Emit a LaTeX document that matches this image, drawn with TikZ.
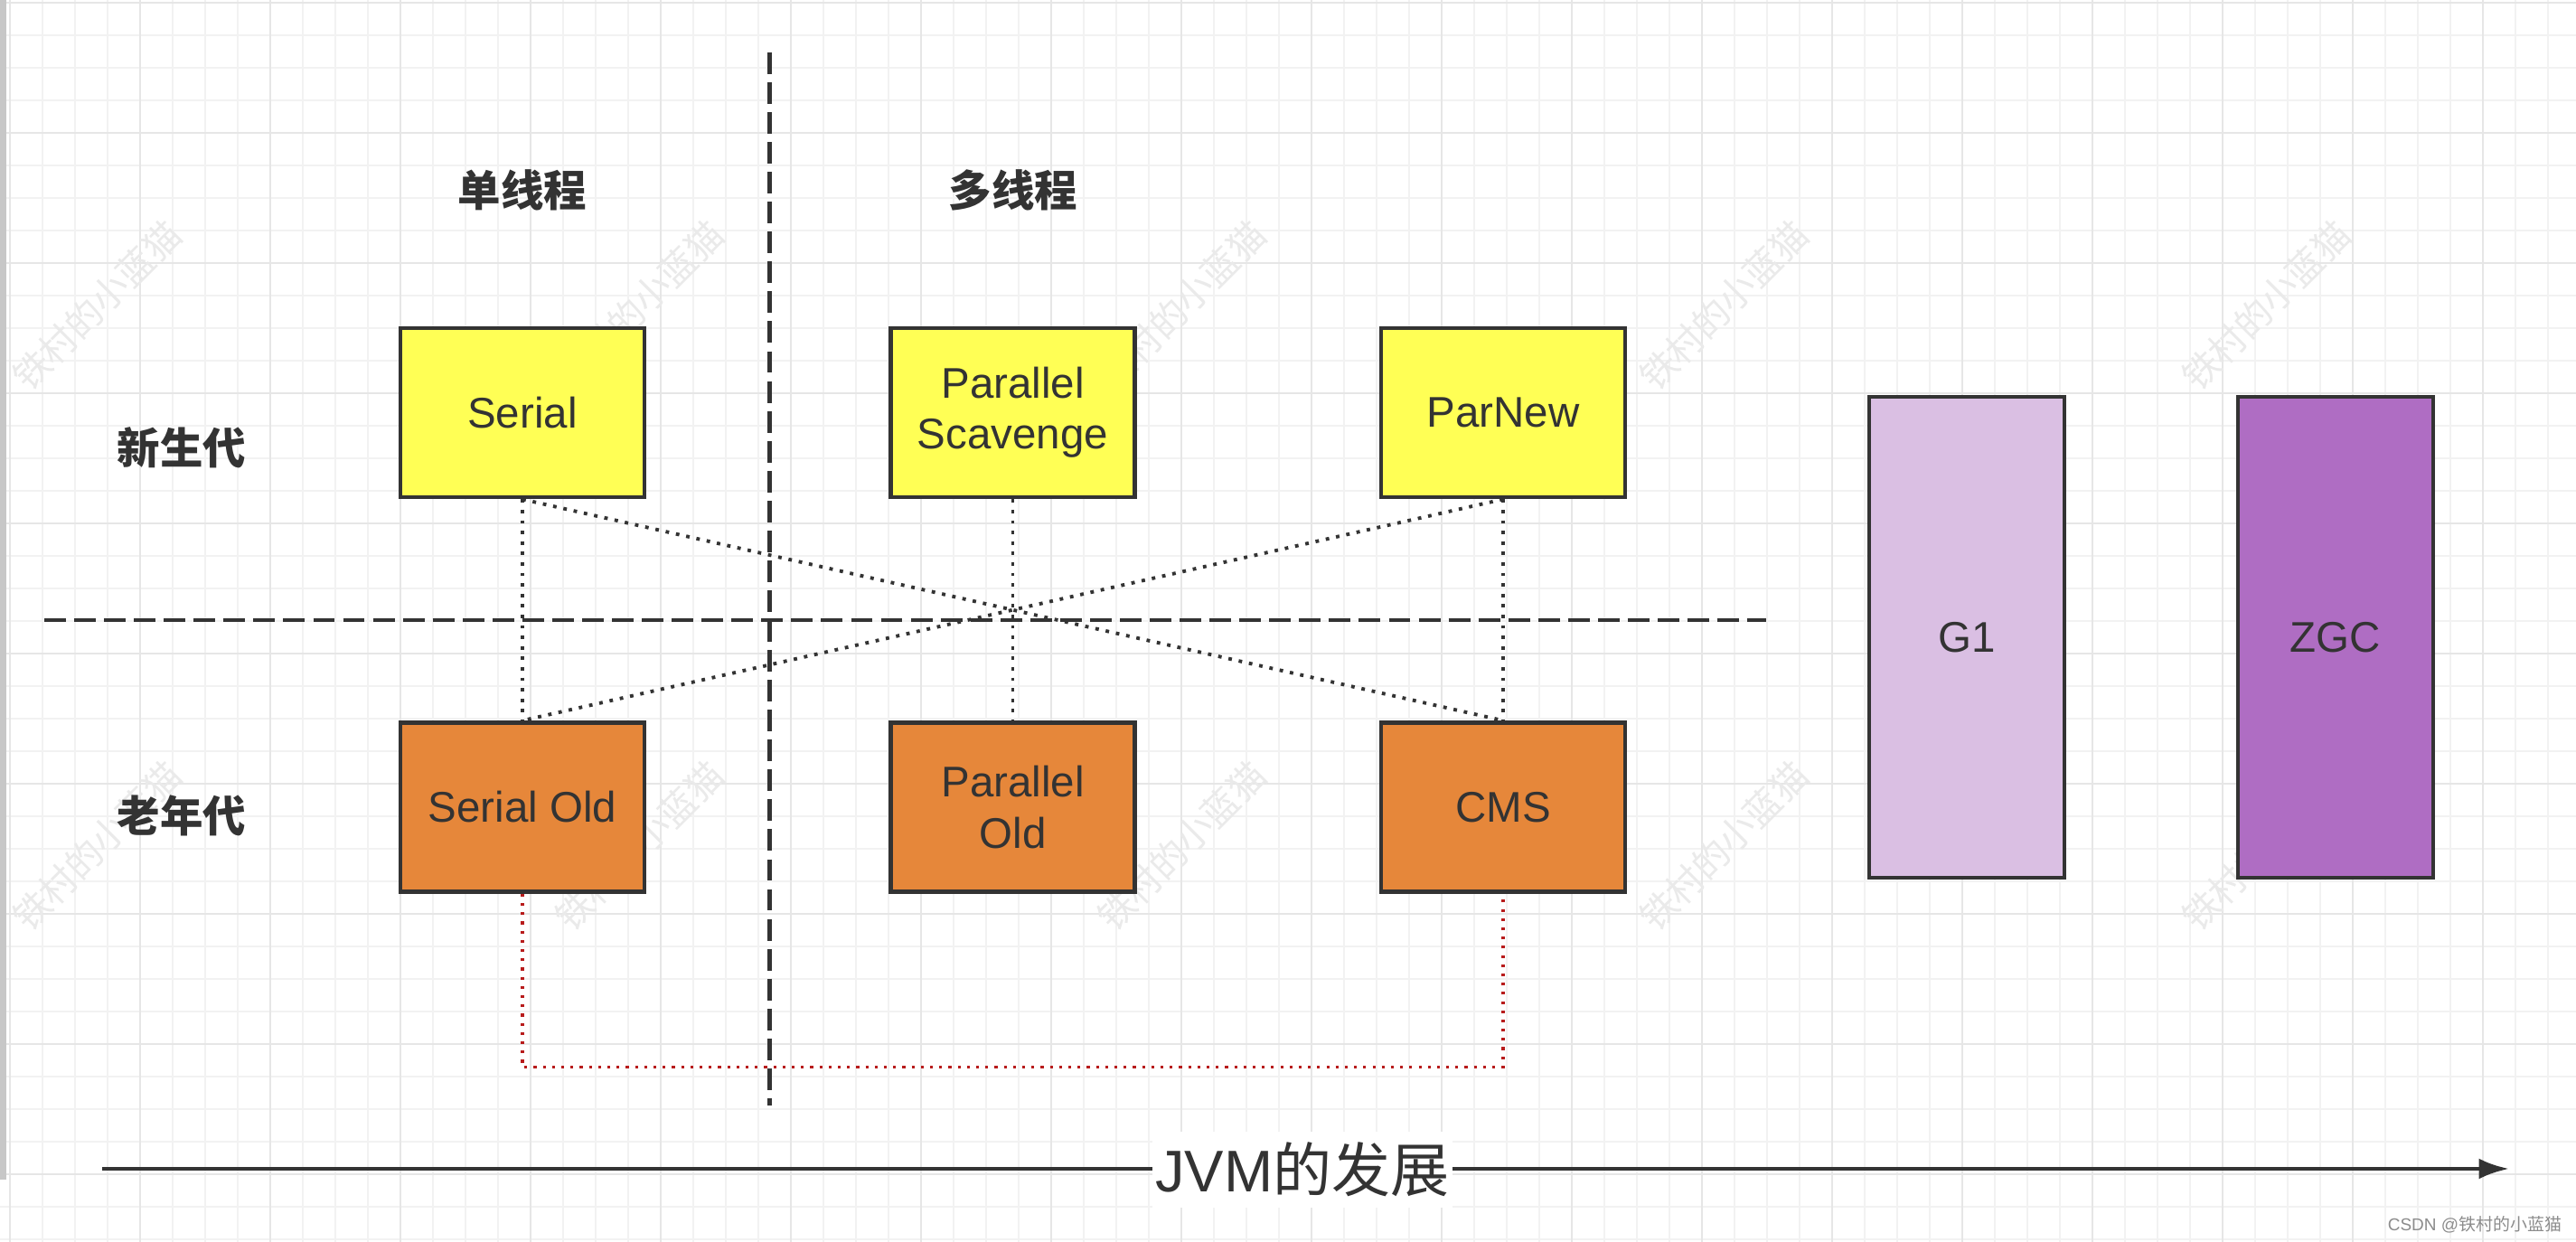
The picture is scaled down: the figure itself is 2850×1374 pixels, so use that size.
\documentclass[tikz,border=0pt]{standalone}
\usepackage{fontspec}
\setmainfont{Liberation Sans}
\newfontfamily\cjk{Noto Sans CJK SC}
\usetikzlibrary{arrows.meta}
\definecolor{ink}{HTML}{333333}
\definecolor{gminor}{HTML}{F2F2F2}
\definecolor{gmajor}{HTML}{E6E6E6}
\definecolor{yel}{HTML}{FFFF55}
\definecolor{ora}{HTML}{E6873A}
\definecolor{lpur}{HTML}{DABFE3}
\definecolor{dpur}{HTML}{AF6DC3}
\definecolor{rdot}{HTML}{B81C1C}
\definecolor{wmark}{HTML}{EAEAEA}
\tikzset{
  gcbox/.style={draw=ink, line width=1.3pt, rectangle, inner sep=0pt, align=center,
    text=ink, font=\fontsize{13.5pt}{16pt}\selectfont},
  youngbox/.style={gcbox, fill=yel, minimum width=2.70cm, minimum height=1.87cm},
  oldbox/.style={gcbox, fill=ora, minimum width=2.70cm, minimum height=1.87cm},
  tallbox/.style={gcbox, minimum width=2.16cm, minimum height=5.32cm},
  rowlabel/.style={text=ink, font=\cjk\bfseries\fontsize{13.5pt}{16pt}\selectfont, inner sep=0pt},
  dashln/.style={draw=ink, line width=1.3pt, dash pattern=on 6.8pt off 2.6pt},
  dotln/.style={draw=ink, line width=1.1pt, dash pattern=on 1.1pt off 2.2pt},
  reddotln/.style={draw=rdot, line width=0.9pt, dash pattern=on 0.9pt off 2.0pt},
  wm/.style={text=wmark, font=\cjk\fontsize{11.5pt}{12pt}\selectfont, inner sep=0pt, rotate=45}
}
\begin{document}
\begin{tikzpicture}[x=0.01cm, y=-0.01cm]
\useasboundingbox (0,0) rectangle (2850,1374);
\fill[white] (0,0) rectangle (2850,1374);
% grid
\foreach \i in {0,...,78} { \draw[gminor, line width=0.55pt] ({11+36*\i},0) -- ({11+36*\i},1374); }
\foreach \j in {0,...,38} { \draw[gminor, line width=0.55pt] (0,{3+36*\j}) -- (2850,{3+36*\j}); }
\foreach \i in {0,...,19} { \draw[gmajor, line width=0.8pt] ({11+144*\i},0) -- ({11+144*\i},1374); }
\foreach \j in {0,...,9} { \draw[gmajor, line width=0.8pt] (0,{3+144*\j}) -- (2850,{3+144*\j}); }
\fill[black!22] (0,0) rectangle (7,1305);
% watermarks
\foreach \x in {107,707,1307,1907,2507} {
  \foreach \y in {338,936} {
    \node[wm] at (\x,\y) {铁村的小蓝猫};
  }
}
% dashed separators
\coordinate (vtop) at (851.5,58);
\coordinate (vbot) at (851.5,1223);
\coordinate (hleft) at (49,686);
\coordinate (hright) at (1954,686);
\draw[dashln] (vtop) -- (vbot);
\draw[dashln] (hleft) -- (hright);
% labels
\node[rowlabel] (single) at (578,210) {单线程};
\node[rowlabel] (multi) at (1121,210) {多线程};
\node[rowlabel] (young) at (201,495) {新生代};
\node[rowlabel] (old) at (201,902) {老年代};
% boxes
\node[youngbox] (ser) at (578,456.5) {Serial};
\node[youngbox] (ps) at (1120.5,456.5) {Parallel\\Scavenge};
\node[youngbox] (pn) at (1663,456.5) {ParNew};
\node[oldbox] (so) at (578,893) {Serial Old};
\node[oldbox] (po) at (1120.5,893) {Parallel\\Old};
\node[oldbox] (cms) at (1663,893) {CMS};
\node[tallbox, fill=lpur] (g1) at (2176,705) {G1};
\node[tallbox, fill=dpur] (zgc) at (2584,705) {ZGC};
% connectors
\draw[dotln] (ser.south) -- (so.north);
\draw[dotln] (ser.south) -- (cms.north);
\draw[dotln] (pn.south) -- (so.north);
\draw[dotln] (ps.south) -- (po.north);
\draw[dotln] (pn.south) -- (cms.north);
\draw[reddotln] (so.south) -- ++(0,191.5) -| (cms.south);
% timeline arrow
\coordinate (tstart) at (113,1293);
\coordinate (tend) at (2776,1293);
\draw[ink, line width=1.4pt, -{Latex[length=9.5pt,width=6.5pt]}] (tstart) -- (tend);
\node[fill=white, text=ink, inner xsep=1pt, minimum height=0.82cm,
  font=\fontsize{18.5pt}{20pt}\selectfont] (jvm) at (1441,1294) {JVM{\cjk 的发展}};
\node[text=black!45, inner sep=0pt, font=\fontsize{5.4pt}{6pt}\selectfont] (csdn) at (2738,1355) {CSDN @{\cjk 铁村的小蓝猫}};
\end{tikzpicture}
\end{document}
